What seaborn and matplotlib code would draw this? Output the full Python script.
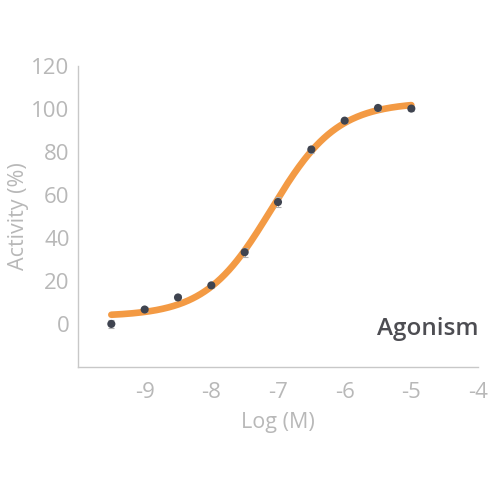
import numpy as np
import pandas as pd
import matplotlib
matplotlib.use("Agg")
import matplotlib.pyplot as plt
import seaborn as sns
from matplotlib.ticker import FixedLocator, FuncFormatter

# Data
log_conc = [-9.5, -9.0, -8.5, -8.0, -7.5, -7.0, -6.5, -6.0, -5.5, -5.0]
activity = [0.0, 6.7, 12.3, 17.9, 33.3, 56.6, 81.0, 94.4, 100.3, 100.0]
errors = [2.0, 1.0, 1.0, 1.0, 2.0, 2.5, 1.5, 1.0, 1.5, 1.0]

# Fitted 4PL curve parameters
curve_bottom = 3.5
curve_top = 103.0
log_ec50 = -7.1
hill = 0.88

x_ticks = [-10, -9, -8, -7, -6, -5, -4]
y_ticks = [-20, 0, 20, 40, 60, 80, 100, 120]

sns.set_style("white")
plt.rcParams['font.family'] = ['Open Sans', 'DejaVu Sans']

fig = plt.figure(figsize=(5, 5), dpi=100)
ax = fig.add_axes([0.156, 0.266, 0.80, 0.603])

xs = np.linspace(min(log_conc), max(log_conc), 300)
ys = curve_bottom + (curve_top - curve_bottom) / (1 + 10 ** ((log_ec50 - xs) * hill))
curve_df = pd.DataFrame({"x": xs, "y": ys})
sns.lineplot(data=curve_df, x="x", y="y", ax=ax, color="#F39A44", linewidth=4.8,
             solid_capstyle="round", zorder=2)

ax.errorbar(log_conc, activity, yerr=errors, fmt="none", ecolor="#b0b0b0",
            elinewidth=0.8, capsize=2.5, capthick=0.8, zorder=3)
df = pd.DataFrame({"x": log_conc, "y": activity})
sns.scatterplot(data=df, x="x", y="y", ax=ax, color="#3f4450", s=34,
                edgecolor="none", zorder=4)

ax.set_xlim(-10, -4)
ax.set_ylim(-20, 120)
ax.xaxis.set_major_locator(FixedLocator(x_ticks))
ax.yaxis.set_major_locator(FixedLocator(y_ticks))
ax.xaxis.set_major_formatter(FuncFormatter(lambda v, p: "" if v == -10 else f"{int(v)}"))
ax.yaxis.set_major_formatter(FuncFormatter(lambda v, p: "" if v == -20 else f"{int(v)}"))

for s in ["top", "right"]:
    ax.spines[s].set_visible(False)
for s in ["left", "bottom"]:
    ax.spines[s].set_color("#c8c8c8")
    ax.spines[s].set_linewidth(1.0)

ax.tick_params(axis="both", which="major", direction="out", length=3, width=1,
               color="#c8c8c8", labelcolor="#b8b8b8", labelsize=16, pad=3)
ax.tick_params(axis="x", pad=8)

ax.set_xlabel("Log (M)", color="#b8b8b8", fontsize=15.5, labelpad=6)
ax.set_ylabel("Activity (%)", color="#b8b8b8", fontsize=15.5, labelpad=2)

ax.text(-4.75, -2.3, "Agonism", ha="center", va="center", fontsize=17.5,
        fontweight="semibold", color="#4d4d52")

fig.savefig("out.png", dpi=100)
